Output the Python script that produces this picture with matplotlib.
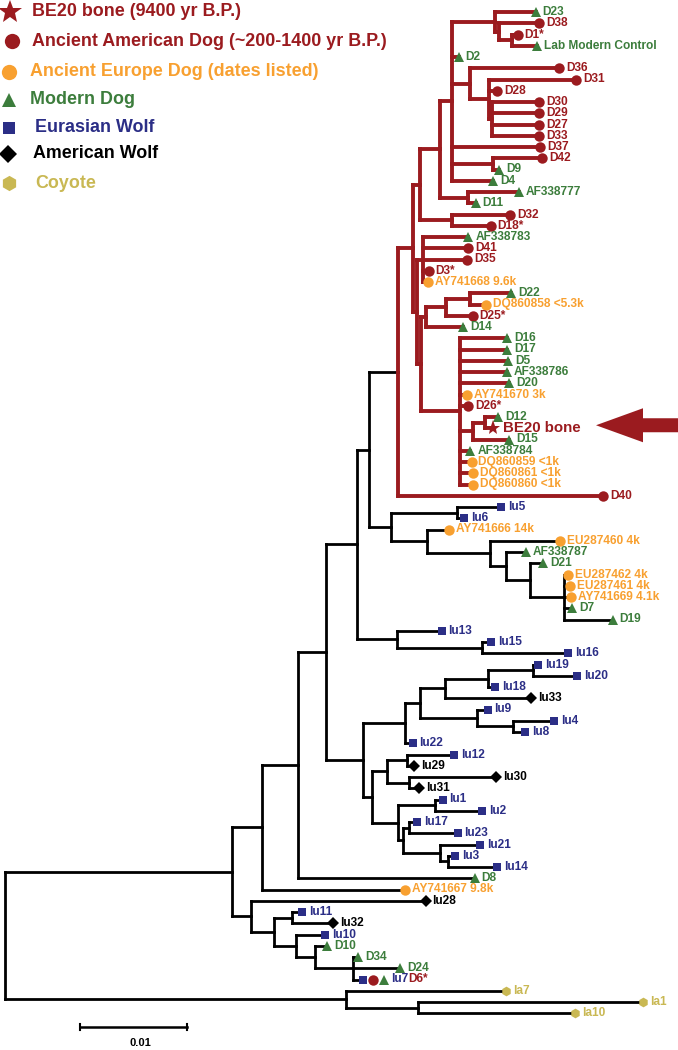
import matplotlib
matplotlib.use('Agg')
import matplotlib.pyplot as plt
from matplotlib.collections import LineCollection
from matplotlib.patches import Polygon

plt.rcParams['font.family'] = ['Liberation Sans', 'DejaVu Sans']

# ---------------- data ----------------
categories = ['bone', 'aad', 'aed', 'md', 'ew', 'aw', 'coy']
category_names = ['BE20 bone (9400 yr B.P.)',
                  'Ancient American Dog (~200-1400 yr B.P.)',
                  'Ancient Europe Dog (dates listed)',
                  'Modern Dog', 'Eurasian Wolf', 'American Wolf', 'Coyote']
category_colors = ['#9B1B1F', '#9B1B1F', '#F8A030', '#3C7D3C', '#2B2E86', '#000000', '#C9B853']
category_markers = ['*', 'o', 'o', '^', 's', 'D', 'h']

# tree topology: internal node -> [(child, branch length in substitutions/site)]
tree_edges = {
    'root': [('DW', 0.0212), ('COY', 0.0319)],
    'COY': [('la7', 0.0149), ('COY2', 0.0067)],
    'COY2': [('la1', 0.0210), ('la10', 0.0147)],
    'DW': [('Na', 0.0028), ('Nb', 0.0018)],
    'Na': [('Nc', 0.0034), ('AY741667', 0.0134)],
    'Nc': [('Nd', 0.0026), ('D8', 0.0165)],
    'Nd': [('Ne', 0.0029), ('Nf', 0.0035)],
    'Ne': [('Ng', 0.0011), ('Nlu13', 0.0037)],
    'Ng': [('RED', 0.0027), ('Nh', 0.0021)],
    'Nh': [('N56', 0.0061), ('Ni', 0.0033)],
    'N56': [('lu5', 0.0042), ('lu6', 0.0007)],
    'Ni': [('AY741666', 0.0021), ('Nj', 0.0059)],
    'Nj': [('EU287460', 0.0066), ('Nk', 0.0015)],
    'Nk': [('AF338787', 0.0019), ('Nl', 0.0023)],
    'Nl': [('D21', 0.0012), ('Nm', 0.0031)],
    'Nm': [('EU287462', 0.0004), ('EU287461', 0.0006), ('AY741669', 0.0007), ('D7', 0.0008),
           ('D19', 0.0046)],
    'Nlu13': [('lu13', 0.0042), ('N1516', 0.0080)],
    'N1516': [('lu15', 0.0008), ('lu16', 0.0080)],
    'Nf': [('Nn', 0.0039), ('No', 0.0008)],
    'Nn': [('Np', 0.0014), ('lu22', 0.0007)],
    'Np': [('Nq', 0.0023), ('Nr', 0.0053)],
    'Nq': [('Ns', 0.0040), ('lu33', 0.0081)],
    'Ns': [('Nt', 0.0042), ('lu18', 0.0007)],
    'Nt': [('lu19', 0.0005), ('lu20', 0.0042)],
    'Nr': [('lu9', 0.0010), ('N48', 0.0034)],
    'N48': [('lu4', 0.0038), ('lu8', 0.0011)],
    'No': [('Nu', 0.0014), ('Nv', 0.0024)],
    'Nu': [('Nw', 0.0019), ('Nx', 0.0021)],
    'Nw': [('lu12', 0.0044), ('lu29', 0.0006)],
    'Nx': [('lu30', 0.0081), ('lu31', 0.0009)],
    'Nv': [('Ny', 0.0035), ('Nz', 0.0005)],
    'Ny': [('lu1', 0.0007), ('lu2', 0.0044)],
    'Nz': [('Naa', 0.0006), ('Nbb', 0.0035)],
    'Naa': [('lu17', 0.0007), ('lu23', 0.0045)],
    'Nbb': [('lu21', 0.0037), ('Ncc', 0.0007)],
    'Ncc': [('lu3', 0.0007), ('lu14', 0.0046)],
    'Nb': [('lu28', 0.0163), ('Ndd', 0.0021)],
    'Ndd': [('Nee', 0.0017), ('Nff', 0.0021)],
    'Nee': [('lu11', 0.0010), ('lu32', 0.0039)],
    'Nff': [('lu10', 0.0027), ('Ngg', 0.0018)],
    'Ngg': [('D10', 0.0011), ('Nhh', 0.0035)],
    'Nhh': [('D34', 0.0005), ('D24', 0.0044), ('lu7', 0.0005)],
    'RED': [('U', 0.0014), ('D40', 0.0192)],
    'U': [('T', 0.0007), ('U2', 0.0004)],
    'T': [('Q', 0.0019), ('S', 0.0030)],
    'Q': [('P', 0.0011), ('R', 0.0026)],
    'P': [('B', 0.0040), ('D2', 0.0006), ('N36', 0.0017), ('D37', 0.0082), ('N42', 0.0038),
          ('D4', 0.0038)],
    'B': [('D23', 0.0038), ('C', 0.0004)],
    'C': [('D38', 0.0037), ('A', 0.0012)],
    'A': [('D1s', 0.0005), ('Lab', 0.0023)],
    'N36': [('D36', 0.0083), ('N31', 0.0017)],
    'N31': [('D31', 0.0082), ('D28', 0.0008), ('N30', 0.0003)],
    'N30': [('D30', 0.0044), ('D29', 0.0044), ('D27', 0.0044), ('D33', 0.0044)],
    'N42': [('D42', 0.0046), ('D9', 0.0006)],
    'R': [('AF338777', 0.0047), ('D11', 0.0007)],
    'S': [('D32', 0.0054), ('D18s', 0.0036)],
    'U2': [('W', 0.0006), ('U3', 0.0004)],
    'W': [('AF338783', 0.0042), ('D41', 0.0042), ('D35', 0.0041), ('D3s', 0.0005),
          ('AY741668', 0.0004)],
    'U3': [('Xc', 0.0004), ('V', 0.0036)],
    'Xc': [('N22a', 0.0019), ('D14', 0.0035)],
    'N22a': [('N22b', 0.0023), ('D25s', 0.0025)],
    'N22b': [('D22', 0.0038), ('DQ860858', 0.0015)],
    'V': [('D16', 0.0044), ('D17', 0.0044), ('D5', 0.0045), ('AF338786', 0.0044),
          ('D20', 0.0046), ('AY741670', 0.0007), ('D26s', 0.0008), ('Y', 0.0012),
          ('AF338784', 0.0010), ('DQ860859', 0.0011), ('DQ860861', 0.0012),
          ('DQ860860', 0.0012)],
    'Y': [('Z', 0.0012), ('D15', 0.0034)],
    'Z': [('D12', 0.0012), ('BE20', 0.0007)],
}

leaf_ids = ['D23', 'D38', 'D1s', 'Lab', 'D2', 'D36', 'D31', 'D28', 'D30', 'D29', 'D27', 'D33',
            'D37', 'D42', 'D9', 'D4', 'AF338777', 'D11', 'D32', 'D18s', 'AF338783', 'D41', 'D35',
            'D3s', 'AY741668', 'D22', 'DQ860858', 'D25s', 'D14', 'D16', 'D17', 'D5', 'AF338786',
            'D20', 'AY741670', 'D26s', 'D12', 'BE20', 'D15', 'AF338784', 'DQ860859', 'DQ860861',
            'DQ860860', 'D40', 'lu5', 'lu6', 'AY741666', 'EU287460', 'AF338787', 'D21',
            'EU287462', 'EU287461', 'AY741669', 'D7', 'D19', 'lu13', 'lu15', 'lu16', 'lu19',
            'lu20', 'lu18', 'lu33', 'lu9', 'lu4', 'lu8', 'lu22', 'lu12', 'lu29', 'lu30', 'lu31',
            'lu1', 'lu2', 'lu17', 'lu23', 'lu21', 'lu3', 'lu14', 'D8', 'AY741667', 'lu28', 'lu11',
            'lu32', 'lu10', 'D10', 'D34', 'D24', 'lu7', 'la7', 'la1', 'la10']
leaf_labels = ['D23', 'D38', 'D1*', 'Lab Modern Control', 'D2', 'D36', 'D31', 'D28', 'D30', 'D29',
               'D27', 'D33', 'D37', 'D42', 'D9', 'D4', 'AF338777', 'D11', 'D32', 'D18*',
               'AF338783', 'D41', 'D35', 'D3*', 'AY741668 9.6k', 'D22', 'DQ860858 <5.3k', 'D25*',
               'D14', 'D16', 'D17', 'D5', 'AF338786', 'D20', 'AY741670 3k', 'D26*', 'D12',
               'BE20 bone', 'D15', 'AF338784', 'DQ860859 <1k', 'DQ860861 <1k', 'DQ860860 <1k',
               'D40', 'lu5', 'lu6', 'AY741666 14k', 'EU287460 4k', 'AF338787', 'D21',
               'EU287462 4k', 'EU287461 4k', 'AY741669 4.1k', 'D7', 'D19', 'lu13', 'lu15', 'lu16',
               'lu19', 'lu20', 'lu18', 'lu33', 'lu9', 'lu4', 'lu8', 'lu22', 'lu12', 'lu29', 'lu30',
               'lu31', 'lu1', 'lu2', 'lu17', 'lu23', 'lu21', 'lu3', 'lu14', 'D8', 'AY741667 9.8k',
               'lu28', 'lu11', 'lu32', 'lu10', 'D10', 'D34', 'D24', 'lu7|D6*', 'la7', 'la1', 'la10']
leaf_groups = ['md', 'aad', 'aad', 'md', 'md', 'aad', 'aad', 'aad', 'aad', 'aad', 'aad', 'aad',
               'aad', 'aad', 'md', 'md', 'md', 'md', 'aad', 'aad', 'md', 'aad', 'aad', 'aad', 'aed',
               'md', 'aed', 'aad', 'md', 'md', 'md', 'md', 'md', 'md', 'aed', 'aad', 'md', 'bone',
               'md', 'md', 'aed', 'aed', 'aed', 'aad', 'ew', 'ew', 'aed', 'aed', 'md', 'md', 'aed',
               'aed', 'aed', 'md', 'md', 'ew', 'ew', 'ew', 'ew', 'ew', 'ew', 'aw', 'ew', 'ew', 'ew',
               'ew', 'ew', 'aw', 'aw', 'aw', 'ew', 'ew', 'ew', 'ew', 'ew', 'ew', 'ew', 'md', 'aed',
               'aw', 'ew', 'aw', 'ew', 'md', 'md', 'md', 'ew|aad|md', 'coy', 'coy', 'coy']
red_clade = 'RED'
scale_bar_value = 0.01

# ---------------- layout ----------------
leaf_index = {lid: i for i, lid in enumerate(leaf_ids)}
node_x, node_y, node_red = {}, {}, {}


def layout(name, x, red):
    node_x[name] = x
    red = red or name == red_clade
    node_red[name] = red
    if name in tree_edges:
        kids = tree_edges[name]
        for c, bl in kids:
            layout(c, x + bl, red)
        node_y[name] = (node_y[kids[0][0]] + node_y[kids[-1][0]]) / 2
    else:
        node_y[name] = leaf_index[name]


layout('root', 0.0, False)

# ---------------- figure ----------------
W, H = 678, 1050
fig = plt.figure(figsize=(W / 100, H / 100), dpi=100)
ax = fig.add_axes([0, 0, 1, 1])
PXU = 10700.0  # pixels per substitution unit
X0, Y0, DY = 5.0, 12.0, 11.25


def px_x(p):
    return (p - X0) / PXU


def px_y(p):
    return (p - Y0) / DY


ax.set_xlim(px_x(0), px_x(W))
ax.set_ylim(px_y(H), px_y(0))
ax.axis('off')

RED = category_colors[0]
segs_black, segs_red = [], []
for name, kids in tree_edges.items():
    tgt = segs_red if node_red[name] else segs_black
    x = node_x[name]
    tgt.append([(x, node_y[kids[0][0]]), (x, node_y[kids[-1][0]])])
    for c, _ in kids:
        tgt.append([(x, node_y[c]), (node_x[c], node_y[c])])

ax.add_collection(LineCollection(segs_black, colors='black', linewidths=2.0,
                                 capstyle='projecting', zorder=2))
ax.add_collection(LineCollection(segs_red, colors=RED, linewidths=2.8,
                                 capstyle='projecting', zorder=2))

cat_color = dict(zip(categories, category_colors))
cat_marker = dict(zip(categories, category_markers))
tree_msize = {'bone': 11, 'aad': 7.5, 'aed': 7.5, 'md': 6.5, 'ew': 5.8, 'aw': 6.0, 'coy': 7}
LABEL_FS = 8.6

for i, lid in enumerate(leaf_ids):
    grp = leaf_groups[i]
    lab = leaf_labels[i]
    x, y = node_x[lid], node_y[lid]
    if '|' in grp:
        groups = grp.split('|')
        offs = [5, 15, 26]
        for g, o in zip(groups, offs):
            ax.plot(x + o / PXU, y, marker=cat_marker[g], color=cat_color[g],
                    markersize=tree_msize[g], markeredgewidth=0, zorder=3)
        parts = lab.split('|')
        t1 = ax.annotate(parts[0], (x + 33 / PXU, y), va='center', ha='left', fontsize=LABEL_FS,
                         fontweight='bold', color=cat_color[groups[0]])
        ax.annotate(parts[1], xy=(1, 0.5), xycoords=t1, va='center', ha='left',
                    fontsize=LABEL_FS, fontweight='bold', color=cat_color[groups[1]])
        continue
    ax.plot(x, y, marker=cat_marker[grp], color=cat_color[grp], markersize=tree_msize[grp],
            markeredgewidth=0, zorder=3)
    fs = 10.8 if grp == 'bone' else LABEL_FS
    off = 7 if grp == 'bone' else 5
    ax.annotate(lab, (x, y), xytext=(off, 0), textcoords='offset points', va='center',
                ha='left', fontsize=fs, fontweight='bold', color=cat_color[grp])

# arrow pointing at BE20
ycen = node_y['BE20'] * DY + Y0 - 3
arrow_px = [(596, ycen), (643, ycen - 17), (643, ycen - 7), (W + 2, ycen - 7),
            (W + 2, ycen + 7), (643, ycen + 7), (643, ycen + 17)]
ax.add_patch(Polygon([(px_x(a), px_y(b)) for a, b in arrow_px], closed=True,
                     facecolor=RED, edgecolor='none', zorder=4))

# legend
leg_marker_px = [(10, 12), (12, 41), (9, 72), (9, 100), (9, 128), (8, 154), (9, 183)]
leg_text_px = [32, 32, 30, 30, 35, 33, 35]
leg_msize = [18, 11, 11, 10, 9, 9, 11]
for k, cat in enumerate(categories):
    mx, my = leg_marker_px[k]
    ax.plot(px_x(mx), px_y(my), marker=category_markers[k], color=category_colors[k],
            markersize=leg_msize[k], markeredgewidth=0, clip_on=False)
    ax.text(px_x(leg_text_px[k]), px_y(my), category_names[k], va='center', ha='left',
            fontsize=12.9, fontweight='bold', color=category_colors[k])

# scale bar
sb_x0 = px_x(80)
sb_y = px_y(1027)
ax.plot([sb_x0, sb_x0 + scale_bar_value], [sb_y, sb_y], color='black', lw=1.8)
for xx in (sb_x0, sb_x0 + scale_bar_value):
    ax.plot([xx, xx], [sb_y - 3 / DY, sb_y + 3 / DY], color='black', lw=1.5)
ax.text(px_x(140), px_y(1043), f'{scale_bar_value:g}', ha='center', va='center',
        fontsize=8, fontweight='bold')

fig.savefig('out.png', dpi=100, facecolor='white')
